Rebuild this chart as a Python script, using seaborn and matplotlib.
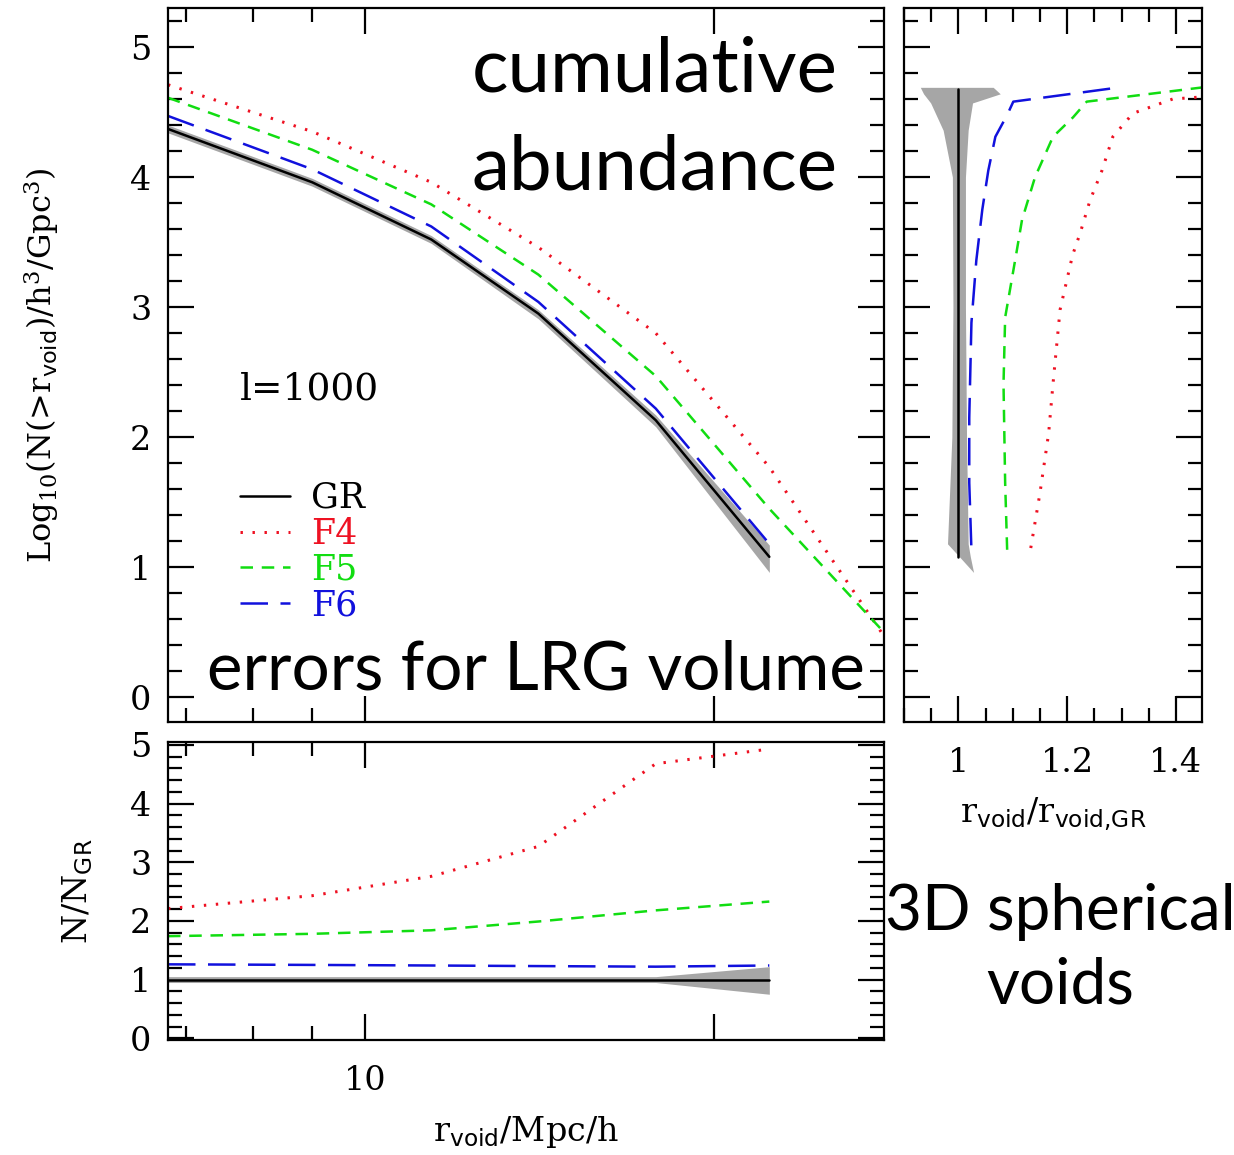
import numpy as np
import pandas as pd
import matplotlib
matplotlib.use("Agg")
import matplotlib.pyplot as plt
from matplotlib.ticker import MultipleLocator, NullFormatter
import seaborn as sns

# radii of the cumulative abundance curves (Mpc/h)
r_void = [6.76, 9.0, 11.4, 14.1, 17.8, 22.3]
r_void_ext = [6.76, 9.0, 11.4, 14.1, 17.8, 22.3, 28.0]

# log10 N(>r) for each model
logn_gr = [4.37, 3.96, 3.52, 2.95, 2.13, 1.08]
logn_gr_lo = [4.34, 3.93, 3.49, 2.91, 2.08, 0.96]
logn_gr_hi = [4.40, 3.99, 3.55, 2.98, 2.17, 1.17]
logn_f4 = [4.71, 4.35, 3.96, 3.46, 2.80, 1.77, 0.47]
logn_f5 = [4.61, 4.21, 3.79, 3.25, 2.47, 1.45, 0.50]
logn_f6 = [4.47, 4.06, 3.62, 3.04, 2.22, 1.18]

# ratio to GR
ratio_gr = [1.0, 1.0, 1.0, 1.0, 1.0, 1.0]
ratio_gr_lo = [0.95, 0.95, 0.95, 0.95, 0.95, 0.75]
ratio_gr_hi = [1.05, 1.05, 1.05, 1.05, 1.05, 1.22]
ratio_f4 = [2.21, 2.43, 2.76, 3.27, 4.68, 4.93]
ratio_f5 = [1.74, 1.78, 1.84, 1.99, 2.18, 2.33]
ratio_f6 = [1.26, 1.25, 1.24, 1.23, 1.22, 1.24]

# right panel: r_void / r_void,GR at fixed abundance
side_gr_y = [4.68, 1.08]
side_gr_x = [1.0, 1.0]
side_band_y = [4.69, 4.64, 4.57, 4.36, 4.0, 3.0, 2.0, 1.18, 1.08, 0.96]
side_band_lo = [0.930, 0.936, 0.949, 0.972, 0.989, 0.990, 0.988, 0.980, 1.002, 1.028]
side_band_hi = [1.064, 1.077, 1.026, 1.018, 1.013, 1.013, 1.015, 1.018, 1.022, 1.028]
side_f6_y = [4.68, 4.58, 4.48, 4.31, 4.05, 3.75, 3.36, 2.88, 2.15, 1.65, 1.13]
side_f6_x = [1.279, 1.101, 1.09, 1.068, 1.055, 1.044, 1.033, 1.024, 1.020, 1.020, 1.024]
side_f5_y = [4.69, 4.58, 4.46, 4.31, 4.0, 3.67, 3.40, 2.92, 2.41, 1.65, 1.09]
side_f5_x = [1.45, 1.236, 1.211, 1.174, 1.141, 1.117, 1.106, 1.086, 1.083, 1.086, 1.090]
side_f4_y = [4.62, 4.60, 4.49, 4.31, 4.05, 3.82, 3.57, 3.40, 2.98, 2.41, 2.03, 1.57, 1.12]
side_f4_x = [1.46, 1.394, 1.321, 1.284, 1.264, 1.242, 1.224, 1.210, 1.187, 1.174, 1.166, 1.150, 1.132]

c_gr = "black"
c_f4 = "#ee1122"
c_f5 = "#11dd11"
c_f6 = "#1111dd"
c_band = "#a6a6a6"
ls_f4 = (0, (0.8, 3.2))
ls_f5 = (0, (5, 3.5))
ls_f6 = (0, (11, 5))
lw = 1.8

sns.set_style("ticks")
plt.rcParams["font.family"] = ["DejaVu Serif"]
plt.rcParams["mathtext.fontset"] = "dejavuserif"
plt.rcParams["axes.linewidth"] = 1.6
plt.rcParams["axes.edgecolor"] = "black"
plt.rcParams["axes.labelcolor"] = "black"
plt.rcParams["text.color"] = "black"
plt.rcParams["xtick.color"] = "black"
plt.rcParams["ytick.color"] = "black"

fig = plt.figure(figsize=(12.34, 11.55), dpi=100)
ax1 = fig.add_axes([168/1234, 1-722/1155, 716/1234, 714/1155])
ax2 = fig.add_axes([168/1234, 1-1040/1155, 716/1234, 298/1155])
ax3 = fig.add_axes([904/1234, 1-722/1155, 298/1234, 714/1155])


def style_ticks(ax):
    ax.tick_params(which="both", direction="in", top=True, right=True,
                   bottom=True, left=True, width=1.6, labelsize=24, pad=12)
    ax.tick_params(which="major", length=19)
    ax.tick_params(which="minor", length=10)


# main panel
ax1.set_xscale("log")
ax1.fill_between(r_void, logn_gr_lo, logn_gr_hi, color=c_band, lw=0)
sns.lineplot(x=r_void, y=logn_gr, ax=ax1, color=c_gr, lw=lw, label="GR", sort=False, estimator=None)
sns.lineplot(x=r_void_ext, y=logn_f4, ax=ax1, color=c_f4, lw=lw*1.2, linestyle=ls_f4, label="F4", sort=False, estimator=None)
sns.lineplot(x=r_void_ext, y=logn_f5, ax=ax1, color=c_f5, lw=lw, linestyle=ls_f5, label="F5", sort=False, estimator=None)
sns.lineplot(x=r_void, y=logn_f6, ax=ax1, color=c_f6, lw=lw, linestyle=ls_f6, label="F6", sort=False, estimator=None)
ax1.set_xlim(6.76, 28.0)
ax1.set_ylim(-0.19, 5.3)
ax1.set_xticks([10, 20])
ax1.set_xticks([7, 8, 9], minor=True)
ax1.xaxis.set_major_formatter(NullFormatter())
ax1.xaxis.set_minor_formatter(NullFormatter())
ax1.yaxis.set_major_locator(MultipleLocator(1))
ax1.yaxis.set_minor_locator(MultipleLocator(0.2))
style_ticks(ax1)
ax1.set_xlabel("")
ax1.set_ylabel(r"Log$_{10}$(N(>r$_{\mathsf{void}}$)/h$^3$/Gpc$^3$)", fontsize=23, labelpad=50)
ax1.text((240-168)/716, (722-390)/714, "l=1000", fontsize=27, ha="left", va="center", transform=ax1.transAxes)
leg = ax1.legend(loc="upper left", bbox_to_anchor=((240-168)/716, (722-481)/714), frameon=False,
                 fontsize=25, handlelength=1.45, handletextpad=0.6, labelspacing=0.05,
                 borderpad=0, borderaxespad=0, labelcolor="linecolor")

# ratio panel
ax2.set_xscale("log")
ax2.fill_between(r_void, ratio_gr_lo, ratio_gr_hi, color=c_band, lw=0)
sns.lineplot(x=r_void, y=ratio_gr, ax=ax2, color=c_gr, lw=lw, sort=False, estimator=None)
sns.lineplot(x=r_void, y=ratio_f4, ax=ax2, color=c_f4, lw=lw*1.2, linestyle=ls_f4, sort=False, estimator=None)
sns.lineplot(x=r_void, y=ratio_f5, ax=ax2, color=c_f5, lw=lw, linestyle=ls_f5, sort=False, estimator=None)
sns.lineplot(x=r_void, y=ratio_f6, ax=ax2, color=c_f6, lw=lw, linestyle=ls_f6, sort=False, estimator=None)
ax2.set_xlim(6.76, 28.0)
ax2.set_ylim(-0.03, 5.05)
ax2.set_xticks([10, 20])
ax2.set_xticklabels(["10", ""])
ax2.set_xticks([7, 8, 9], minor=True)
ax2.xaxis.set_minor_formatter(NullFormatter())
ax2.yaxis.set_major_locator(MultipleLocator(1))
ax2.yaxis.set_minor_locator(MultipleLocator(0.2))
style_ticks(ax2)
ax2.tick_params(axis="x", pad=18)
ax2.set_xlabel(r"r$_{\mathsf{void}}$/Mpc/h", fontsize=24, labelpad=12)
ax2.set_ylabel(r"N/N$_{\mathsf{GR}}$", fontsize=24, labelpad=25)

# side panel
ax3.fill_betweenx(side_band_y, side_band_lo, side_band_hi, color=c_band, lw=0)
sns.lineplot(x=side_gr_x, y=side_gr_y, ax=ax3, color=c_gr, lw=lw, sort=False, estimator=None)
sns.lineplot(x=side_f4_x, y=side_f4_y, ax=ax3, color=c_f4, lw=lw*1.2, linestyle=ls_f4, sort=False, estimator=None)
sns.lineplot(x=side_f5_x, y=side_f5_y, ax=ax3, color=c_f5, lw=lw, linestyle=ls_f5, sort=False, estimator=None)
sns.lineplot(x=side_f6_x, y=side_f6_y, ax=ax3, color=c_f6, lw=lw, linestyle=ls_f6, sort=False, estimator=None)
ax3.set_xlim(0.9, 1.448)
ax3.set_ylim(-0.19, 5.3)
ax3.xaxis.set_minor_locator(MultipleLocator(0.05))
ax3.set_xticks([1.0, 1.2, 1.4])
ax3.set_xticklabels(["1", "1.2", "1.4"])
ax3.yaxis.set_major_locator(MultipleLocator(1))
ax3.yaxis.set_minor_locator(MultipleLocator(0.2))
ax3.yaxis.set_major_formatter(NullFormatter())
style_ticks(ax3)
ax3.tick_params(axis="x", pad=18)
ax3.set_ylabel("")
ax3.set_xlabel(r"r$_{\mathsf{void}}$/r$_{\mathsf{void{,}GR}}$", fontsize=24, labelpad=12)

# slide annotations
fig.text(838/1234, 1-92/1155, "cumulative", ha="right", va="baseline", family="Lato", fontsize=55)
fig.text(838/1234, 1-190/1155, "abundance", ha="right", va="baseline", family="Lato", fontsize=55)
fig.text(207/1234, 1-690/1155, "errors for LRG volume", ha="left", va="baseline", family="Lato", fontsize=48.5)
fig.text(1060/1234, 1-930/1155, "3D spherical", ha="center", va="baseline", family="Lato", fontsize=46)
fig.text(1060/1234, 1-1003/1155, "voids", ha="center", va="baseline", family="Lato", fontsize=46)

fig.savefig("out.png", dpi=100)
